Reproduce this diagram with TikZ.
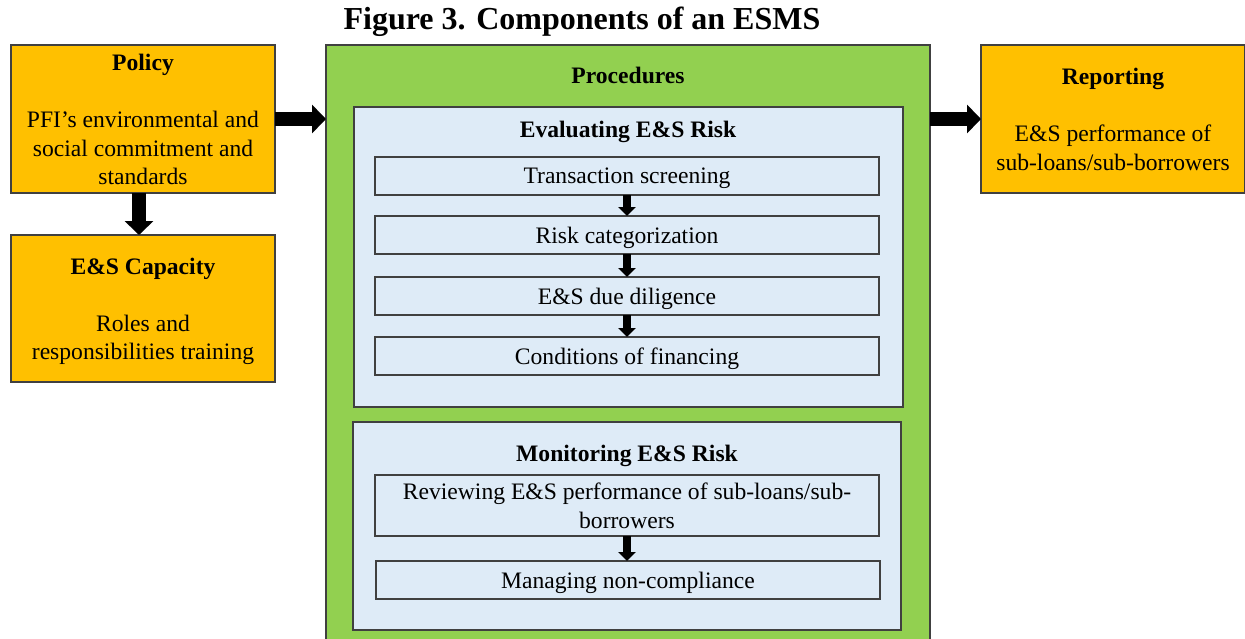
\documentclass[tikz,border=0pt]{standalone}
\usepackage{fontspec}
\setmainfont{Liberation Serif}
\usetikzlibrary{arrows.meta}

\definecolor{esgold}{HTML}{FFC000}
\definecolor{esgreen}{HTML}{92D050}
\definecolor{esblue}{HTML}{DEEBF7}

\begin{document}
\begin{tikzpicture}[x=0.5pt,y=-0.5pt]
	\tikzset{%
		esbox/.style={draw=black!75,line width=0.6pt,inner sep=0pt,outer sep=0pt},
		txt/.style={align=center,font=\fontsize{11.8}{14.25}\selectfont},
		hdr/.style={txt,font=\fontsize{11.8}{14.25}\selectfont\bfseries},
		bigarrow/.style={line width=7pt,-{Triangle[length=7pt,width=14pt]}},
		smallarrow/.style={line width=4pt,-{Triangle[length=4.5pt,width=8.5pt]}},
	}

	\useasboundingbox (0,0) rectangle (1245,638);

	% box from (x1,y1) to (x2,y2), in pixels of the original
	\newcommand*{\esrect}[7]{%
	\node[esbox,fill=#6,minimum width={(#4-#2)*0.5pt},minimum height={(#5-#3)*0.5pt},txt,text depth=0pt]
		(#1) at ({(#2+#4)/2},{(#3+#5)/2}) {#7};
	}

	\node[font=\fontsize{16}{19}\selectfont\bfseries] (title) at (582,22) {Figure 3. Components of an ESMS};

	% left column
	\esrect{policy}{11}{45}{275}{193}{esgold}{}
	\node[hdr] (policyhd) at (143,65) {Policy};
	\node[txt] (policytx) at (143,148) {PFI’s environmental and\\social commitment and\\standards};

	\esrect{capacity}{11}{235}{275}{382}{esgold}{}
	\node[hdr] (capacityhd) at (143,269) {E\&S Capacity};
	\node[txt] (capacitytx) at (143,340) {Roles and\\responsibilities training};

	% procedures
	\esrect{procs}{326}{45}{930}{660}{esgreen}{}
	\node[hdr] (procshd) at (628,75) {Procedures};

	\esrect{evaluate}{354}{107}{903}{407}{esblue}{}
	\node[hdr] (evaluatehd) at (628,132) {Evaluating E\&S Risk};
	\esrect{screen}{375}{157}{879}{195}{esblue}{Transaction screening}
	\esrect{categ}{375}{216}{879}{254}{esblue}{Risk categorization}
	\esrect{diligence}{375}{277}{879}{315}{esblue}{E\&S due diligence}
	\esrect{conditions}{375}{337}{879}{375}{esblue}{Conditions of financing}

	\esrect{monitor}{353}{422}{901}{630}{esblue}{}
	\node[hdr] (monitorhd) at (627,456) {Monitoring E\&S Risk};
	\esrect{review}{375}{475}{879}{536}{esblue}{Reviewing E\&S performance of sub-loans/sub-\\borrowers}
	\esrect{noncomp}{376}{561}{880}{599}{esblue}{Managing non-compliance}

	% reporting
	\esrect{report}{981}{45}{1245}{193}{esgold}{}
	\node[hdr] (reporthd) at (1113,79) {Reporting};
	\node[txt] (reporttx) at (1113,148) {E\&S performance of\\sub-loans/sub-borrowers};

	% arrows
	\draw [bigarrow] (policy.east) -- (procs.west |- policy.east);
	\draw [bigarrow] (procs.east |- report.west) -- (report.west);
	\draw [bigarrow] ([xshift=-2pt]policy.south) -- ([xshift=-2pt]capacity.north);

	\draw [smallarrow] (screen.south) -- (categ.north);
	\draw [smallarrow] (categ.south) -- (diligence.north);
	\draw [smallarrow] (diligence.south) -- (conditions.north);
	\draw [smallarrow] (review.south) -- (noncomp.north -| review.south);
\end{tikzpicture}
\end{document}
